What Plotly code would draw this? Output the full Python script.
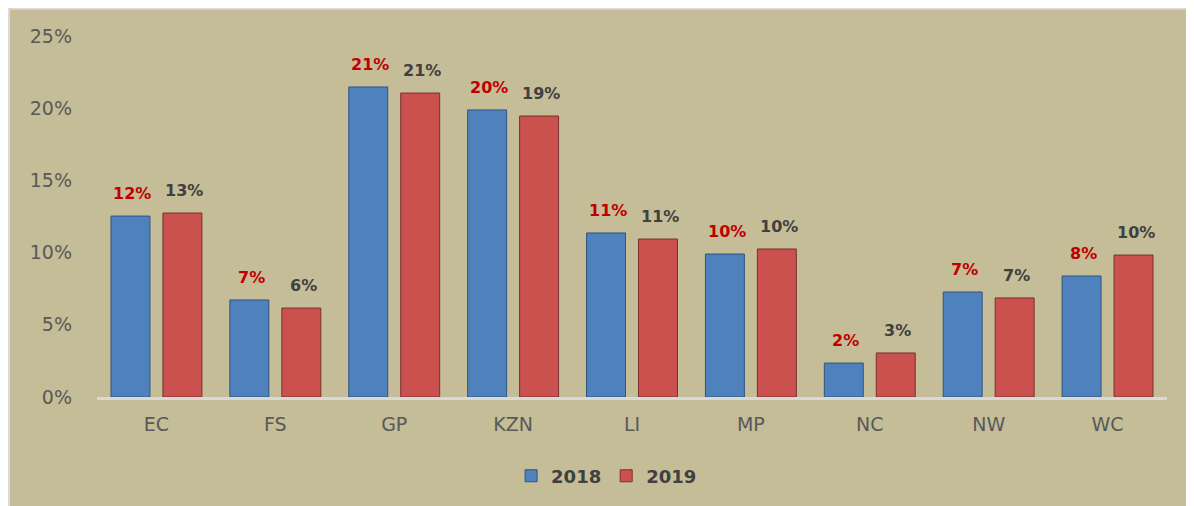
import plotly.graph_objects as go

categories = ["EC", "FS", "GP", "KZN", "LI", "MP", "NC", "NW", "WC"]
values_2018 = [0.1253, 0.0672, 0.2147, 0.1988, 0.1136, 0.0990, 0.0235, 0.0727, 0.0838]
values_2019 = [0.1274, 0.0616, 0.2105, 0.1946, 0.1094, 0.1025, 0.0305, 0.0686, 0.0983]
labels_2018 = ["12%", "7%", "21%", "20%", "11%", "10%", "2%", "7%", "8%"]
labels_2019 = ["13%", "6%", "21%", "19%", "11%", "10%", "3%", "7%", "10%"]
y_ticks = [0, 0.05, 0.10, 0.15, 0.20, 0.25]

FONT = "DejaVu Sans"
TAN = "#C4BD97"

fig = go.Figure()
fig.add_trace(go.Bar(
    name="2018", x=categories, y=values_2018,
    marker=dict(color="#4F81BD", line=dict(color="#2F5480", width=1)),
    hoverinfo="skip",
))
fig.add_trace(go.Bar(
    name="2019", x=categories, y=values_2019,
    marker=dict(color="#CB514E", line=dict(color="#7A2F2D", width=1)),
    hoverinfo="skip",
))

annotations = []
for cat, v, t in zip(categories, values_2018, labels_2018):
    annotations.append(dict(x=cat, y=v, xref="x", yref="y", text=t, showarrow=False,
                            xshift=-24, yshift=11, yanchor="bottom",
                            font=dict(family=FONT, size=16, color="#C00000", weight="bold")))
for cat, v, t in zip(categories, values_2019, labels_2019):
    annotations.append(dict(x=cat, y=v, xref="x", yref="y", text=t, showarrow=False,
                            xshift=28, yshift=11, yanchor="bottom",
                            font=dict(family=FONT, size=16, color="#404040", weight="bold")))

fig.update_layout(
    width=1186, height=498,
    margin=dict(l=89, r=27, t=28, b=109),
    paper_bgcolor="white",
    plot_bgcolor="rgba(0,0,0,0)",
    barmode="group",
    bargap=0.126,
    bargroupgap=0.25,
    font=dict(family=FONT, color="#595959"),
    shapes=[dict(type="rect", xref="paper", yref="paper",
                 x0=-0.0822, x1=1.04, y0=-0.35, y1=1.0755,
                 fillcolor=TAN, line=dict(color="#D9D9D9", width=2), layer="below")],
    annotations=annotations,
    xaxis=dict(
        showline=True, linecolor="#D9D9D9", linewidth=3,
        showgrid=False, zeroline=False, ticks="",
        tickfont=dict(family=FONT, size=19, color="#595959"),
        ticklabelstandoff=8,
    ),
    yaxis=dict(
        range=[0, 0.25], tickvals=y_ticks, tickformat=".0%",
        showgrid=False, zeroline=False, showline=False, ticks="",
        tickfont=dict(family=FONT, size=19, color="#595959"),
        ticklabelstandoff=24,
    ),
    legend=dict(
        orientation="h", x=0.387, xanchor="left", y=-0.219, yanchor="middle",
        font=dict(family=FONT, size=18, color="#404040", weight="bold"),
        bgcolor="rgba(0,0,0,0)", itemwidth=30,
    ),
    showlegend=True,
)

fig.write_html("out.html")
